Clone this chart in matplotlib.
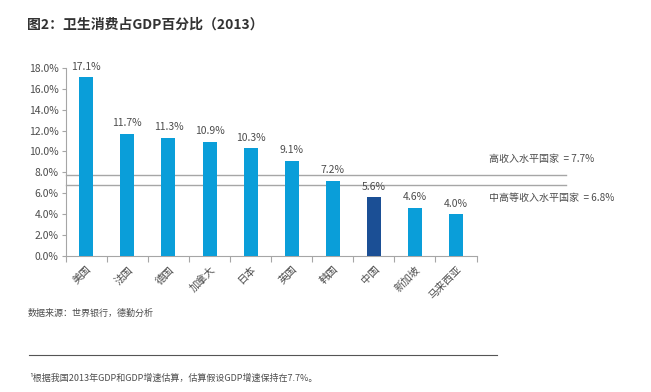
import matplotlib.pyplot as plt
from matplotlib.ticker import FixedLocator, FuncFormatter
import matplotlib.transforms as mtransforms

plt.rcParams['font.family'] = ['Noto Sans CJK SC', 'DejaVu Sans']

# data
countries = ['美国', '法国', '德国', '加拿大', '日本', '英国', '韩国', '中国', '新加坡', '马来西亚']
health_share = [17.1, 11.7, 11.3, 10.9, 10.3, 9.1, 7.2, 5.6, 4.6, 4.0]
ref_names = ['高收入水平国家', '中高等收入水平国家']
ref_levels = [7.7, 6.8]

bar_color = '#0A9ED9'
china_color = '#1B4F95'
text_color = '#4D4D4D'
line_color = '#A6A6A6'

fig = plt.figure(figsize=(6.51, 3.92), dpi=100)
ax = fig.add_axes([0.101, 0.347, 0.631, 0.48])

x = list(range(len(countries)))
colors = [china_color if c == '中国' else bar_color for c in countries]
ax.bar(x, health_share, width=0.34, color=colors, zorder=3)

for xi, v in zip(x, health_share):
    ax.annotate(f'{v:.1f}%', (xi, v), xytext=(0, 4), textcoords='offset points',
                ha='center', va='bottom', fontsize=7.5, color=text_color)

ax.set_xlim(-0.5, len(countries) - 0.5)
ax.set_ylim(0, 18)
ax.set_yticks([0, 2, 4, 6, 8, 10, 12, 14, 16, 18])
ax.yaxis.set_major_formatter(FuncFormatter(lambda v, p: f'{v:.1f}%'))
ax.tick_params(axis='y', labelsize=7.5, colors=line_color, labelcolor=text_color,
               length=3, width=0.8, pad=2)

ax.set_xticks(x)
ax.set_xticklabels(countries, rotation=45, ha='right', rotation_mode='anchor',
                   fontsize=7.5, color=text_color)
ax.tick_params(axis='x', which='major', length=0, pad=6)
ax.xaxis.set_minor_locator(FixedLocator([i - 0.5 for i in range(len(countries) + 1)]))
ax.tick_params(axis='x', which='minor', length=4, width=0.8, color=line_color)

for s in ['top', 'right']:
    ax.spines[s].set_visible(False)
for s in ['left', 'bottom']:
    ax.spines[s].set_color(line_color)
    ax.spines[s].set_linewidth(0.8)

# reference lines extending past the plot
trans = mtransforms.blended_transform_factory(ax.transAxes, ax.transData)
for name, lvl, off, va in zip(ref_names, ref_levels, [8, -6], ['bottom', 'top']):
    ax.plot([0, 1.219], [lvl, lvl], transform=trans, color=line_color,
            lw=1.0, clip_on=False, zorder=2)
    ax.annotate(f'{name}  = {lvl:.1f}%', (1.03, lvl), xycoords=trans,
                xytext=(0, off), textcoords='offset points',
                ha='left', va=va, fontsize=7.2, color=text_color)

fig.text(0.042, 0.938, '图2：卫生消费占GDP百分比（2013）', fontsize=10,
         fontweight='bold', color='#333333', ha='left', va='center')
fig.text(0.042, 0.202, '数据来源：世界银行，德勤分析', fontsize=6.5,
         color=text_color, ha='left', va='center')
fig.add_artist(plt.Line2D([0.045, 0.763], [0.094, 0.094], transform=fig.transFigure,
                          color='#555555', lw=0.8))
fig.text(0.044, 0.036, '¹根据我国2013年GDP和GDP增速估算，估算假设GDP增速保持在7.7%。',
         fontsize=6.5, color=text_color, ha='left', va='center')

fig.savefig('out.png', dpi=100)
